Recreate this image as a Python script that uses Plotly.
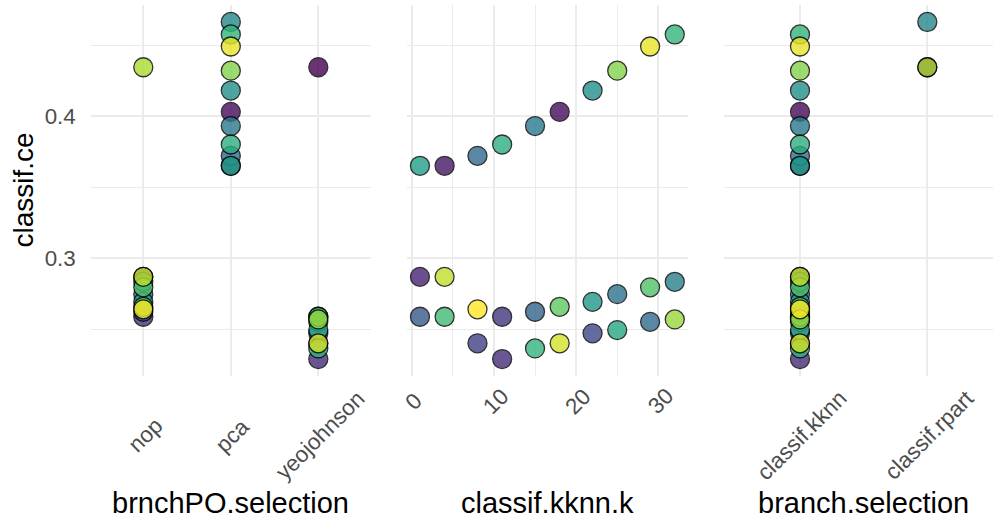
import pandas as pd
import plotly.graph_objects as go

# grid of k values tried for classif.kknn
k_values = [1, 4, 8, 11, 15, 18, 22, 25, 29, 32]

# classif.ce for kknn, one list per preprocessing branch
ce_pca = [0.365, 0.365, 0.372, 0.380, 0.393, 0.403, 0.418, 0.432, 0.449, 0.4575]
ce_nop = [0.2868, 0.2868, 0.2639, 0.2587, 0.2622, 0.2657, 0.2692, 0.2746, 0.2794, 0.2833]
ce_yeo = [0.2587, 0.2587, 0.2400, 0.2289, 0.2364, 0.2400, 0.2470, 0.2493, 0.2551, 0.2568]

# batch number of each evaluation (used for the fill colour)
batch_pca = [19, 3, 12, 21, 14, 2, 17, 27, 32, 22]
batch_nop = [4, 30, 33, 6, 11, 25, 18, 13, 24, 15]
batch_yeo = [10, 23, 7, 5, 22, 31, 8, 20, 12, 28]

# classif.rpart runs (no k)
rpart_preproc = ["pca", "nop", "yeojohnson"]
ce_rpart = [0.4663, 0.4344, 0.4344]
batch_rpart = [16, 29, 1]

preproc_levels = ["nop", "pca", "yeojohnson"]
learner_levels = ["classif.kknn", "classif.rpart"]
k_ticks = [0, 10, 20, 30]

rows = []
for name, ces, batches in [("nop", ce_nop, batch_nop),
                           ("pca", ce_pca, batch_pca),
                           ("yeojohnson", ce_yeo, batch_yeo)]:
    for k, ce, b in zip(k_values, ces, batches):
        rows.append(dict(preproc=name, learner="classif.kknn", k=k, ce=ce, batch=b))
for name, ce, b in zip(rpart_preproc, ce_rpart, batch_rpart):
    rows.append(dict(preproc=name, learner="classif.rpart", k=None, ce=ce, batch=b))

df = pd.DataFrame(rows).sort_values("batch")
kknn = df[df["learner"] == "classif.kknn"]

W, H = 993, 522
GRID = "#EBEBEB"
TICK_COL = "#4D4D4D"
FONT = "Liberation Sans, Arial, sans-serif"
TICK_SIZE = 22.4
TITLE_SIZE = 29

bmin, bmax = df["batch"].min(), df["batch"].max()


def marker(d):
    return dict(
        color=d["batch"], colorscale="Viridis", cmin=bmin, cmax=bmax,
        size=19, opacity=0.8, line=dict(color="black", width=1.3),
    )


fig = go.Figure()
fig.add_trace(go.Scatter(x=df["preproc"], y=df["ce"], mode="markers",
                         marker=marker(df), xaxis="x", yaxis="y", showlegend=False))
fig.add_trace(go.Scatter(x=kknn["k"], y=kknn["ce"], mode="markers",
                         marker=marker(kknn), xaxis="x2", yaxis="y2", showlegend=False))
fig.add_trace(go.Scatter(x=df["learner"], y=df["ce"], mode="markers",
                         marker=marker(df), xaxis="x3", yaxis="y3", showlegend=False))

# y range with ggplot's 5% expansion
lo, hi = df["ce"].min(), df["ce"].max()
pad = (hi - lo) * 0.05
yrange = [lo - pad, hi + pad]


def px_x(p):
    return p / W


def px_y(p):
    return 1 - p / H


y_dom = [px_y(375.9), px_y(5.1)]
common_x = dict(showticklabels=False, showgrid=True, gridcolor=GRID, gridwidth=2,
                zeroline=False, showline=False, ticks="")
common_y = dict(showgrid=True, gridcolor=GRID, gridwidth=2, zeroline=False,
                showline=False, ticks="", domain=y_dom, range=yrange,
                tick0=0, dtick=0.1,
                minor=dict(dtick=0.05, tick0=0, showgrid=True, gridcolor=GRID, gridwidth=1))

fig.update_layout(
    width=W, height=H,
    margin=dict(l=0, r=0, t=0, b=0, pad=0),
    plot_bgcolor="white", paper_bgcolor="white",
    font=dict(family=FONT),
    xaxis=dict(common_x, domain=[px_x(90.8), px_x(370.8)], type="category",
               categoryorder="array", categoryarray=preproc_levels,
               range=[-0.6, 2.6], anchor="y"),
    xaxis2=dict(common_x, domain=[px_x(407.2), px_x(687.5)], range=[-0.55, 33.55],
                tick0=0, dtick=10, anchor="y2",
                minor=dict(dtick=5, tick0=0, showgrid=True, gridcolor=GRID, gridwidth=1)),
    xaxis3=dict(common_x, domain=[px_x(723.6), 1.0], type="category",
                categoryorder="array", categoryarray=learner_levels,
                range=[-0.6, 1.516], anchor="y3"),
    yaxis=dict(common_y, anchor="x", tickformat=".1f",
               tickfont=dict(size=TICK_SIZE, color=TICK_COL), ticklabelstandoff=14),
    yaxis2=dict(common_y, anchor="x2", matches="y", showticklabels=False),
    yaxis3=dict(common_y, anchor="x3", matches="y", showticklabels=False),
)

# rotated tick labels, centred under each tick like ggplot's angle = 45
tick_font = dict(size=TICK_SIZE, color=TICK_COL, family=FONT)
for xref, labels, ypx in [("x", preproc_levels, 435.5),
                          ("x2", k_ticks, 401),
                          ("x3", learner_levels, 435.5)]:
    for lab in labels:
        fig.add_annotation(x=lab, y=px_y(ypx), xref=xref, yref="paper", text=str(lab),
                           textangle=-45, showarrow=False, font=tick_font,
                           xanchor="center", yanchor="middle", xshift=1.7)

# axis titles
title_font = dict(size=TITLE_SIZE, color="black", family=FONT)
for xpx, title in [(230.8, "brnchPO.selection"), (547.3, "classif.kknn.k"),
                   (863.6, "branch.selection")]:
    fig.add_annotation(x=px_x(xpx), y=px_y(503), xref="paper", yref="paper", text=title,
                       showarrow=False, font=title_font, xanchor="center", yanchor="middle")
fig.add_annotation(x=px_x(23), y=px_y(190.5), xref="paper", yref="paper", text="classif.ce",
                   textangle=-90, showarrow=False, font=dict(title_font, size=28),
                   xanchor="center", yanchor="middle")

# drop the browser's default body margin so the figure sits at the page corner
fig.write_html("out.html", config={"displayModeBar": False},
               post_script="document.body.style.margin = '0';")
